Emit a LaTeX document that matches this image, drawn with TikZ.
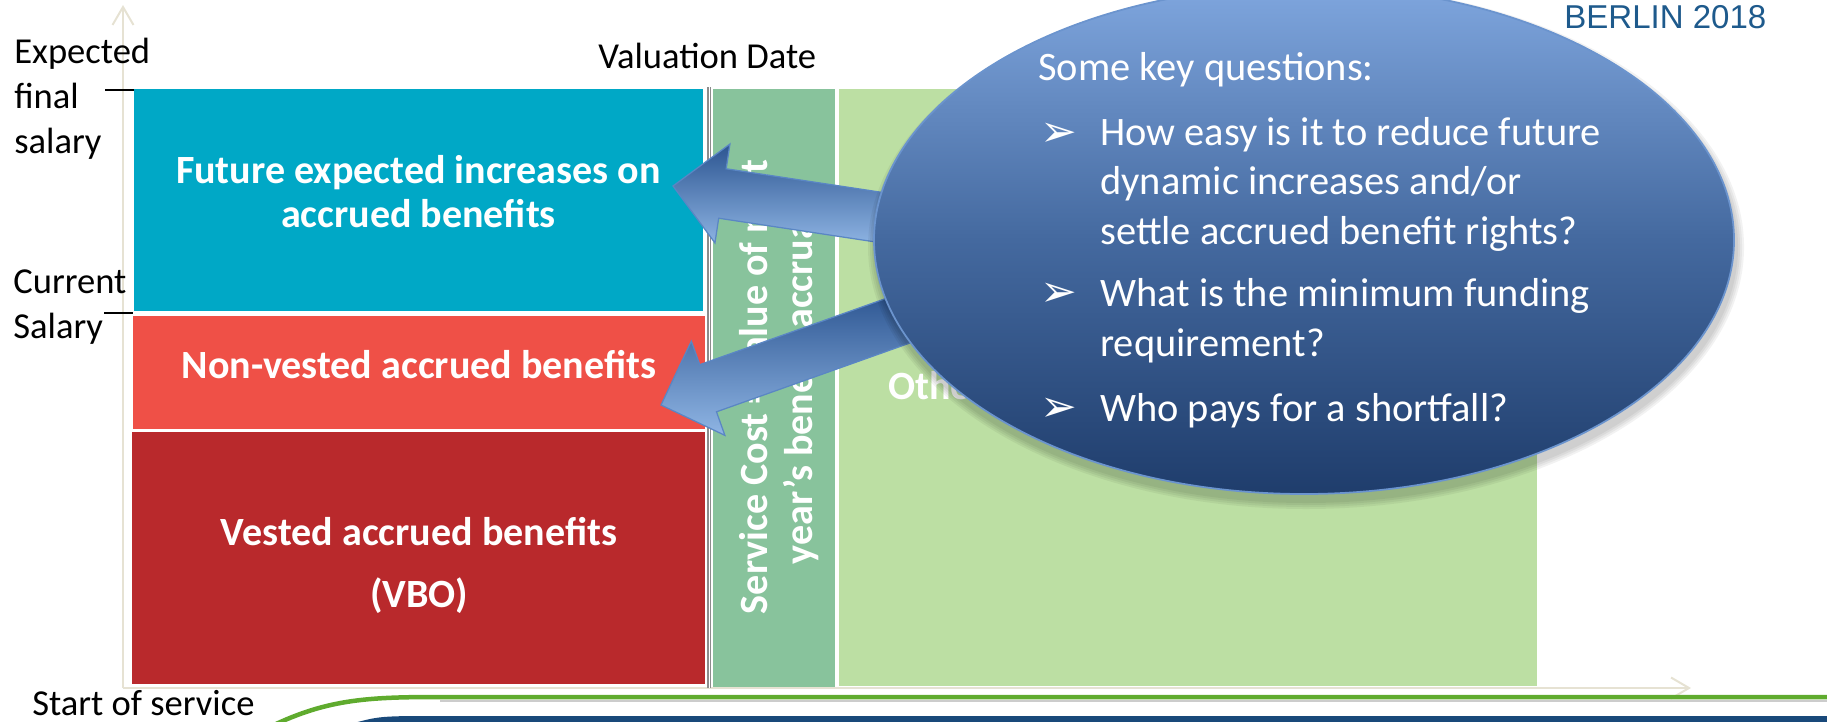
\documentclass[tikz,border=0pt]{standalone}
\usepackage{fontspec}
\setmainfont{Carlito}
\newfontfamily\berlinfont{Liberation Sans}
\newfontfamily\bulletfont{DejaVu Sans}
\usetikzlibrary{calc,shapes.geometric,arrows.meta}

\definecolor{futblue}{HTML}{00A8C6}
\definecolor{nvred}{HTML}{EF5047}
\definecolor{vred}{HTML}{B9292C}
\definecolor{scgreen}{HTML}{88C39C}
\definecolor{othgreen}{HTML}{BCDFA3}
\definecolor{axisbeige}{HTML}{E6E2D3}
\definecolor{qtop}{HTML}{7FA6DE}
\definecolor{qmid}{HTML}{44699F}
\definecolor{qbot}{HTML}{1F3D6C}
\definecolor{qedge}{HTML}{6B94CE}
\definecolor{arrtop}{HTML}{2C5591}
\definecolor{arrbot}{HTML}{8FB5E4}
\definecolor{arredge}{HTML}{5A86C4}
\definecolor{lineblue}{HTML}{19497A}
\definecolor{linegreen}{HTML}{5FAB2E}
\definecolor{berlinblue}{HTML}{1E5A8C}

% block arrow from #1 (tail) to #2 (tip), #3 names the head base
\newcommand{\qarrow}[3]{%
  \coordinate (#3) at ($(#2)!10mm!(#1)$);
  \draw[bigarrow] ($(#1)!5mm!90:(#2)$) -- ($(#3)!5mm!-90:(#1)$) -- ($(#3)!10mm!-90:(#1)$)
    -- (#2) -- ($(#3)!10mm!90:(#1)$) -- ($(#3)!5mm!90:(#1)$) -- ($(#1)!5mm!-90:(#2)$) -- cycle;
}

\begin{document}
\begin{tikzpicture}[x = 0.2mm, y = -0.2mm,
	lbl/.style = {anchor = base west, inner sep = 0, align = left, font = \fontsize{20.8}{25.6}\selectfont},
	boxtxt/.style = {anchor = base, inner sep = 0, text = white, align = center, font = \fontsize{22.8}{25}\selectfont\bfseries},
	qtxt/.style = {anchor = base west, inner sep = 0, text = white, align = left, font = \fontsize{23}{27.9}\selectfont},
	qbullet/.style = {anchor = base west, inner sep = 0, text = white, font = \bulletfont\fontsize{25}{28}\selectfont},
	axis/.style = {draw = axisbeige, line width = 0.4mm, -{Straight Barb[length = 3.6mm, width = 4.2mm]}},
	bigarrow/.style = {draw = arredge, line width = 0.25mm, top color = arrtop, bottom color = arrbot},
	qbubble/.style = {ellipse, draw = qedge, line width = 0.35mm, top color = qtop, bottom color = qbot, middle color = qmid,
		minimum width = 172mm, minimum height = 101.6mm, inner sep = 0}]
	
		\useasboundingbox (0, 0) rectangle (1827, 721);
		
		% axes
		\coordinate (o) at (123, 688);
		\draw[axis] (o) -- (123, 5);
		\draw[axis] (o) -- (1691, 688);
		
		% benefit blocks
		\fill[futblue] (134, 89) rectangle (703, 311);
		\fill[nvred] (133, 316) rectangle (705, 429);
		\fill[vred] (132, 432) rectangle (705, 684);
		\fill[scgreen] (713, 89) rectangle (835, 687);
		\fill[othgreen] (839, 89) rectangle (1537, 686);
		
		\draw[black!45, line width = 0.3mm, double = white, double distance = 0.2mm] (709, 87) -- (709, 688);
		
		\draw[line width = 0.3mm] (105, 90) -- (134, 90);
		\draw[line width = 0.3mm] (104, 313) -- (133, 313);
		
		% base anchor sits on the last line
		\node[boxtxt] (fut) at (418.5, 227) {Future expected increases on\\accrued benefits};
		\node[boxtxt] (nonv) at (419, 378) {Non-vested accrued benefits};
		\node[boxtxt] (vest) at (419, 607) {Vested accrued benefits\\[10pt](VBO)};
		\node[boxtxt, anchor = center, rotate = 90, font = \fontsize{22.8}{25.6}\selectfont\bfseries] (svc) at (779, 387)
			{Service Cost = value of next\\year’s benefit accrual};
		\node[boxtxt, anchor = base west] (oth) at (888, 399) {Other};
		
		% arrows out of the question bubble
		\coordinate (qc) at (1304, 240);
		\coordinate (t1) at ($(qc) + (-400, -19)$);
		\coordinate (t2) at ($(qc) + (-390, 75)$);
		\coordinate (p1) at (673, 186);
		\coordinate (p2) at (661, 405);
		\qarrow{t1}{p1}{h1}
		\qarrow{t2}{p2}{h2}
		
		% soft shadow under the bubble
		\foreach \d in {0.4, 0.8, 1.2, 1.6}
			\fill[black, opacity = 0.05] ($(qc) + (2, 7)$) ellipse [x radius = 86mm + \d mm, y radius = 50.8mm + \d mm];
		\node[qbubble] (q) at (qc) {};
		
		\node[qtxt] (qh) at (1038, 80) {Some key questions:};
		\node[qbullet] (b1) at (1040, 146) {➢};
		\node[qtxt] (q1) at (1100, 244) {How easy is it to reduce future\\dynamic increases and/or\\settle accrued benefit rights?};
		\node[qbullet] (b2) at (1040, 306) {➢};
		\node[qtxt] (q2) at (1100, 356) {What is the minimum funding\\requirement?};
		\node[qbullet] (b3) at (1040, 421) {➢};
		\node[qtxt] (q3) at (1100, 421) {Who pays for a shortfall?};
		
		% labels
		\node[lbl] (lexp) at (14, 153) {Expected\\final\\salary};
		\node[lbl] (lcur) at (13, 338) {Current\\Salary};
		\node[lbl] (lval) at (598, 68) {Valuation Date};
		\node[lbl] (lstart) at (32, 715) {Start of service};
		
		% footer band
		\draw[black!20, line width = 0.5mm] (440, 701) -- (1830, 701);
		\draw[linegreen, line width = 0.9mm] (276, 724) .. controls (330, 699) and (370, 697) .. (440, 697) -- (1830, 697);
		\fill[lineblue] (350, 724) .. controls (380, 716) .. (440, 716) -- (1830, 716) -- (1830, 724) -- cycle;
		
		\node[anchor = base west, inner sep = 0, text = berlinblue, font = \berlinfont\fontsize{18.8}{22}\selectfont] (berlin) at (1564, 28) {BERLIN 2018};
		
	\end{tikzpicture}
\end{document}
